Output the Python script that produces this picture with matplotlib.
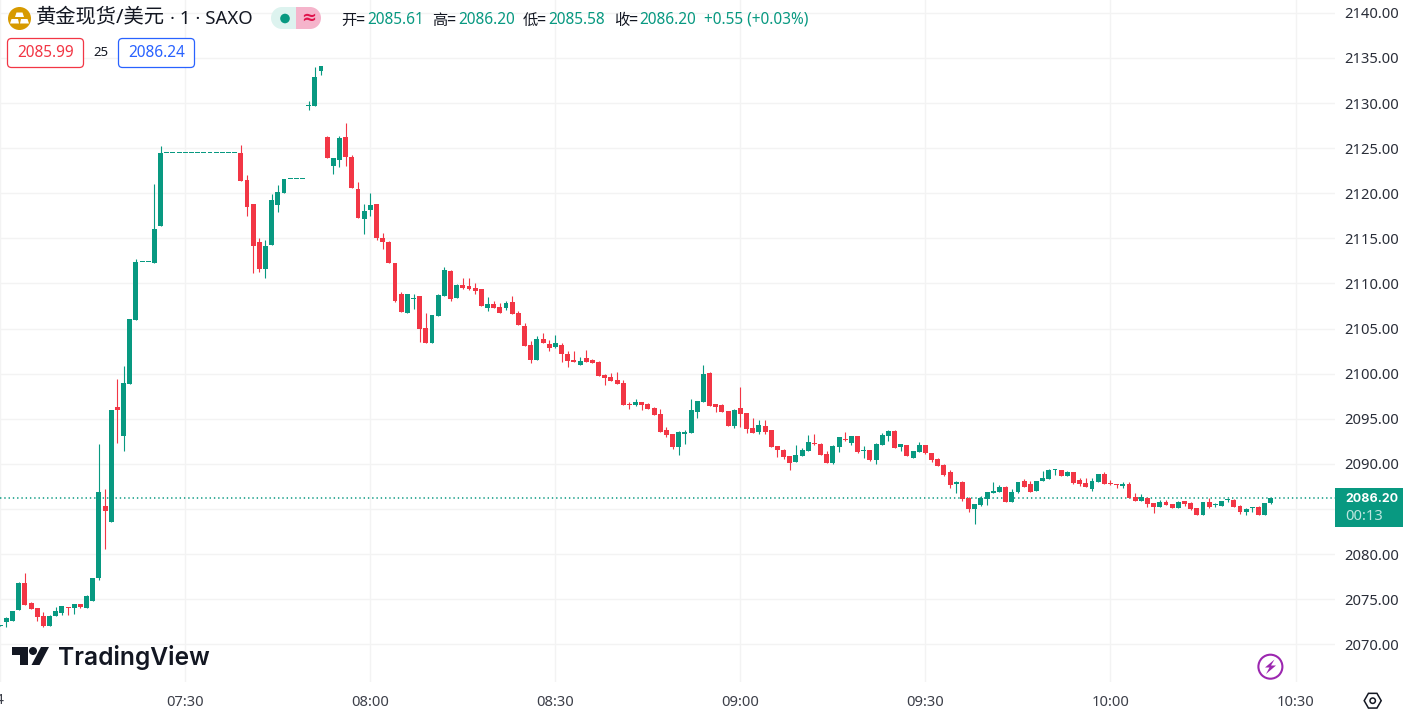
import numpy as np
import matplotlib
matplotlib.use("Agg")
import matplotlib.pyplot as plt
from matplotlib.patches import Circle, FancyBboxPatch, Polygon, Rectangle, RegularPolygon

# one candle per minute, first one at 07:00
opens = [
    2072.05, 2072.43, 2072.62, 2073.84, 2076.80, 2074.58, 2074.02, 2073.14, 2072.07, 2073.17,
    2073.50, 2074.14, 2074.02, 2074.47, 2074.02, 2074.80, 2077.35, 2085.33, 2083.56, 2096.31,
    2093.09, 2098.86, 2105.95, 2112.38, 2112.38, 2112.27, 2116.38, 2124.47, 2124.47, 2124.47,
    2124.47, 2124.47, 2124.47, 2124.47, 2124.47, 2124.47, 2124.47, 2124.47, 2124.47, 2124.47,
    2121.48, 2118.82, 2114.60, 2111.61, 2114.27, 2118.71, 2120.04, 2121.55, 2121.55, 2121.55,
    2129.70, 2129.68, 2133.56, 2126.25, 2123.03, 2123.70, 2126.25, 2124.03, 2120.48, 2117.15,
    2118.15, 2118.82, 2115.05, 2114.60, 2112.28, 2108.84, 2106.73, 2108.25, 2108.62, 2105.07,
    2103.41, 2106.40, 2108.62, 2111.39, 2108.40, 2109.84, 2109.73, 2109.51, 2109.40, 2107.29,
    2107.73, 2107.40, 2107.29, 2107.95, 2106.73, 2105.29, 2103.19, 2101.52, 2103.85, 2103.30,
    2102.96, 2103.19, 2102.19, 2101.52, 2100.97, 2101.75, 2101.52, 2101.30, 2099.86, 2099.64,
    2099.31, 2098.97, 2096.65, 2096.53, 2096.87, 2096.65, 2096.20, 2095.54, 2093.76, 2093.32,
    2091.88, 2093.32, 2093.43, 2095.76, 2096.86, 2100.08, 2096.64, 2096.53, 2095.87, 2094.20,
    2096.20, 2095.64, 2093.98, 2093.54, 2094.20, 2093.76, 2091.99, 2091.54, 2090.88, 2090.21,
    2090.88, 2091.43, 2092.32, 2092.21, 2091.10, 2090.10, 2091.87, 2092.76, 2092.32, 2093.09,
    2091.43, 2091.54, 2090.43, 2092.10, 2093.09, 2093.65, 2091.87, 2092.10, 2090.66, 2091.32,
    2092.10, 2091.21, 2090.55, 2089.88, 2089.11, 2087.77, 2088.00, 2086.22, 2085.00, 2085.45,
    2086.11, 2086.78, 2086.89, 2087.44, 2085.78, 2086.89, 2088.11, 2087.77, 2087.00, 2088.11,
    2088.33, 2089.33, 2089.33, 2088.66, 2089.11, 2088.22, 2087.89, 2087.22, 2088.00, 2088.88,
    2087.89, 2087.77, 2087.55, 2087.77, 2086.33, 2085.88, 2086.22, 2085.66, 2085.22, 2085.77,
    2085.55, 2085.11, 2085.88, 2085.66, 2085.11, 2084.33, 2085.77, 2085.40, 2085.33, 2085.98,
    2085.99, 2085.33, 2084.66, 2085.11, 2085.22, 2084.33, 2085.61,
]
highs = [
    2072.10, 2073.00, 2073.69, 2076.90, 2077.90, 2074.69, 2074.02, 2073.58, 2073.25, 2074.14,
    2074.25, 2074.14, 2074.47, 2074.47, 2075.47, 2077.35, 2092.20, 2087.21, 2095.97, 2099.41,
    2100.85, 2106.07, 2112.72, 2112.38, 2112.38, 2121.03, 2125.24, 2124.47, 2124.47, 2124.47,
    2124.47, 2124.47, 2124.47, 2124.47, 2124.47, 2124.47, 2124.47, 2124.47, 2124.47, 2125.36,
    2122.03, 2118.82, 2115.05, 2114.83, 2119.93, 2120.92, 2121.59, 2121.55, 2121.55, 2121.55,
    2130.23, 2134.00, 2134.11, 2126.36, 2123.92, 2126.36, 2127.80, 2124.25, 2121.26, 2118.82,
    2120.04, 2118.82, 2115.60, 2114.70, 2112.28, 2109.06, 2108.84, 2108.84, 2108.62, 2106.73,
    2106.51, 2108.84, 2111.83, 2111.50, 2109.95, 2110.61, 2110.61, 2110.06, 2109.40, 2108.51,
    2108.06, 2107.84, 2108.06, 2108.62, 2106.96, 2105.63, 2103.63, 2104.18, 2104.52, 2103.74,
    2104.30, 2103.41, 2102.52, 2102.52, 2101.86, 2102.63, 2101.64, 2101.41, 2099.97, 2100.08,
    2100.19, 2099.31, 2096.87, 2097.20, 2096.87, 2096.76, 2096.31, 2096.09, 2094.10, 2093.32,
    2093.65, 2093.76, 2097.20, 2096.98, 2100.97, 2100.19, 2096.64, 2096.64, 2095.87, 2096.09,
    2098.53, 2095.64, 2095.09, 2094.87, 2094.87, 2093.76, 2091.99, 2091.65, 2090.88, 2092.10,
    2091.76, 2093.21, 2093.32, 2092.32, 2091.43, 2092.10, 2092.98, 2093.54, 2093.09, 2093.09,
    2091.99, 2091.54, 2092.32, 2093.43, 2093.76, 2093.76, 2092.21, 2092.10, 2091.43, 2092.43,
    2092.10, 2091.21, 2090.66, 2089.99, 2089.33, 2088.11, 2088.11, 2086.33, 2085.56, 2086.44,
    2086.89, 2088.00, 2087.66, 2087.55, 2087.22, 2088.00, 2088.33, 2088.11, 2088.11, 2089.22,
    2089.44, 2089.44, 2089.33, 2089.22, 2089.11, 2088.44, 2088.44, 2088.44, 2088.88, 2089.11,
    2088.22, 2087.77, 2088.00, 2088.00, 2086.78, 2086.66, 2086.33, 2085.66, 2085.99, 2085.99,
    2085.55, 2085.88, 2085.88, 2085.77, 2085.11, 2085.77, 2086.22, 2085.66, 2085.88, 2086.10,
    2086.10, 2085.44, 2085.11, 2085.22, 2085.33, 2085.66, 2086.20,
]
lows = [
    2072.05, 2071.95, 2072.62, 2073.84, 2074.39, 2073.95, 2072.62, 2071.95, 2072.07, 2073.17,
    2073.29, 2073.25, 2073.36, 2074.02, 2074.02, 2074.80, 2077.13, 2080.57, 2083.56, 2092.32,
    2091.43, 2098.86, 2105.95, 2112.38, 2112.38, 2112.27, 2116.38, 2124.47, 2124.47, 2124.47,
    2124.47, 2124.47, 2124.47, 2124.47, 2124.47, 2124.47, 2124.47, 2124.47, 2124.47, 2121.37,
    2117.49, 2111.17, 2111.28, 2110.61, 2114.27, 2117.93, 2120.04, 2121.55, 2121.55, 2121.55,
    2129.23, 2129.68, 2133.12, 2123.92, 2122.14, 2122.92, 2123.03, 2120.59, 2117.27, 2115.49,
    2117.49, 2114.83, 2113.83, 2112.28, 2107.95, 2106.84, 2106.73, 2107.18, 2103.52, 2103.41,
    2103.41, 2106.40, 2108.62, 2108.06, 2108.40, 2109.39, 2109.28, 2108.84, 2107.51, 2106.96,
    2107.29, 2106.73, 2107.07, 2106.62, 2105.40, 2103.08, 2101.19, 2101.52, 2103.41, 2102.52,
    2102.85, 2101.30, 2100.75, 2101.30, 2100.97, 2101.30, 2101.19, 2099.75, 2098.75, 2099.20,
    2098.86, 2096.53, 2096.09, 2096.42, 2095.98, 2096.09, 2095.43, 2093.54, 2092.99, 2091.66,
    2090.99, 2092.21, 2093.43, 2095.09, 2096.86, 2096.42, 2095.76, 2095.76, 2094.20, 2093.98,
    2094.09, 2093.43, 2093.43, 2093.32, 2093.32, 2091.87, 2090.77, 2090.54, 2089.32, 2090.21,
    2090.88, 2091.43, 2092.10, 2090.99, 2090.10, 2089.99, 2091.32, 2092.54, 2092.10, 2091.21,
    2090.66, 2090.32, 2089.99, 2092.10, 2092.54, 2091.76, 2091.43, 2090.88, 2090.66, 2091.32,
    2091.10, 2090.21, 2089.77, 2088.66, 2087.33, 2086.78, 2085.89, 2084.67, 2083.34, 2085.34,
    2085.45, 2086.78, 2086.89, 2085.78, 2085.78, 2086.78, 2087.44, 2086.89, 2087.00, 2088.11,
    2088.33, 2088.77, 2088.66, 2088.66, 2087.77, 2087.55, 2087.44, 2087.00, 2088.00, 2087.77,
    2087.66, 2087.33, 2087.33, 2086.22, 2085.89, 2085.88, 2085.22, 2084.55, 2085.22, 2085.44,
    2085.11, 2085.11, 2085.33, 2084.89, 2084.33, 2084.33, 2085.11, 2085.22, 2085.33, 2085.77,
    2085.22, 2084.44, 2084.33, 2084.66, 2084.33, 2084.33, 2085.58,
]
closes = [
    2072.07, 2072.92, 2073.69, 2076.80, 2074.39, 2073.95, 2073.06, 2072.07, 2073.14, 2073.69,
    2074.25, 2074.06, 2074.47, 2074.17, 2075.35, 2077.35, 2086.88, 2084.78, 2095.97, 2095.97,
    2098.97, 2106.07, 2112.38, 2112.38, 2112.38, 2116.04, 2124.47, 2124.47, 2124.47, 2124.47,
    2124.47, 2124.47, 2124.47, 2124.47, 2124.47, 2124.47, 2124.47, 2124.47, 2124.47, 2121.37,
    2118.48, 2114.16, 2111.61, 2114.16, 2119.26, 2120.15, 2121.59, 2121.55, 2121.55, 2121.55,
    2129.72, 2132.89, 2134.11, 2123.92, 2123.92, 2126.13, 2124.03, 2120.59, 2117.27, 2118.04,
    2118.71, 2115.05, 2114.60, 2112.28, 2108.06, 2106.84, 2108.84, 2108.30, 2104.96, 2103.41,
    2106.51, 2108.73, 2111.50, 2108.29, 2109.84, 2109.50, 2109.40, 2109.17, 2107.51, 2107.73,
    2107.29, 2106.73, 2107.84, 2106.62, 2105.40, 2103.08, 2101.52, 2103.85, 2103.41, 2102.85,
    2103.41, 2102.19, 2101.41, 2101.30, 2101.41, 2101.30, 2101.19, 2099.75, 2099.53, 2099.20,
    2098.86, 2096.53, 2096.53, 2096.87, 2096.53, 2096.09, 2095.43, 2093.54, 2093.21, 2091.88,
    2093.54, 2093.54, 2095.98, 2096.98, 2099.97, 2096.42, 2096.31, 2095.76, 2094.20, 2095.98,
    2095.53, 2093.87, 2093.43, 2094.31, 2093.54, 2091.87, 2091.54, 2090.77, 2090.10, 2090.99,
    2091.54, 2092.43, 2092.21, 2090.99, 2090.10, 2091.99, 2092.98, 2092.65, 2093.09, 2091.32,
    2091.47, 2090.43, 2092.21, 2093.21, 2093.65, 2091.76, 2092.21, 2090.88, 2091.43, 2092.10,
    2091.21, 2090.44, 2089.77, 2088.77, 2087.66, 2088.00, 2086.11, 2085.00, 2085.56, 2086.22,
    2086.89, 2087.00, 2087.44, 2085.78, 2086.89, 2088.00, 2087.44, 2086.89, 2088.11, 2088.44,
    2089.33, 2089.35, 2088.66, 2089.11, 2087.89, 2087.77, 2087.44, 2088.11, 2088.88, 2087.77,
    2087.77, 2087.66, 2087.77, 2086.22, 2085.89, 2086.33, 2085.55, 2085.22, 2085.77, 2085.44,
    2085.11, 2085.77, 2085.55, 2085.00, 2084.33, 2085.77, 2085.22, 2085.44, 2085.88, 2086.00,
    2085.22, 2084.66, 2085.00, 2085.22, 2084.33, 2085.66, 2086.20,
]
price_ticks = list(range(2070, 2145, 5))
time_ticks = [0, 30, 60, 90, 120, 150, 180, 210]
time_labels = ["", "07:30", "08:00", "08:30", "09:00", "09:30", "10:00", "10:30"]
bid = 2085.99
ask = 2086.24
spread = 25
change = "+0.55 (+0.03%)"
countdown = "00:13"

GREEN = "#089981"
RED = "#f23645"
BLUE = "#2962ff"
INK = "#131722"
GRID = "#f3f3f3"
NUM_FONT = ["Noto Sans", "Noto Sans CJK SC"]
CJK_FONT = ["Noto Sans CJK SC", "DejaVu Sans"]

W, H = 1403, 713
fig = plt.figure(figsize=(W / 100, H / 100), dpi=100, facecolor="white")
ax = fig.add_axes([0, (H - 682) / H, 1335 / W, 682 / H])

opens = np.array(opens)
highs = np.array(highs)
lows = np.array(lows)
closes = np.array(closes)
minutes = np.arange(len(opens))
colors = np.where(closes >= opens, GREEN, RED)

# wicks, then bodies with a 1px minimum height for the flat minutes
ax.vlines(minutes, lows, highs, colors=colors, linewidth=0.8, zorder=3)
ax.bar(minutes, np.maximum(np.abs(closes - opens), 0.11), bottom=np.minimum(opens, closes),
       width=0.8, color=colors, linewidth=0, zorder=4)
ax.axhline(closes[-1], color=GREEN, linewidth=1.1, linestyle=(0, (0.9, 1.9)), zorder=2)

ax.set_xlim(-0.042, 216.4)
ax.set_ylim(2065.82, 2141.43)
ax.set_xticks(time_ticks)
ax.set_xticklabels(time_labels, fontsize=10.6, family=NUM_FONT, color="#3c3f49")
ax.set_yticks(price_ticks)
# the 2085 label sits behind the last price tag, so it stays empty
ax.set_yticklabels(["" if p == 2085 else f"{p:.2f}" for p in price_ticks],
                   fontsize=10.6, family=NUM_FONT, color="#2a2e39")
ax.yaxis.tick_right()
ax.tick_params(axis="x", length=0, pad=9.5)
ax.tick_params(axis="y", length=0, pad=7)
ax.grid(True, color=GRID, linewidth=1)
ax.set_axisbelow(True)
for spine in ax.spines.values():
    spine.set_visible(False)

# overlay in picture pixels for the header, badges and logo
ov = fig.add_axes([0, 0, 1, 1])
ov.set_xlim(0, W)
ov.set_ylim(H, 0)
ov.axis("off")
ov.patch.set_alpha(0)

# symbol icon
ov.add_patch(Circle((19.5, 18.5), 11.5, color="#d79a00", linewidth=0))
ov.add_patch(Polygon([(16.5, 12.5), (22.5, 12.5), (24, 17), (15, 17)], color="white", linewidth=0))
ov.add_patch(Polygon([(11.5, 19), (18, 19), (19, 23.5), (10, 23.5)], color="white", linewidth=0))
ov.add_patch(Polygon([(21, 19), (27.5, 19), (29, 23.5), (20, 23.5)], color="white", linewidth=0))
ov.text(36, 18.5, "黄金现货/美元", fontsize=14.6, family=NUM_FONT, color=INK, ha="left", va="center")
ov.text(170, 18.5, "· 1 · SAXO", fontsize=13.4, family=NUM_FONT, color=INK, ha="left", va="center")

# market status pill
ov.add_patch(Circle((282, 18), 11, color="#ddf3ef", linewidth=0))
ov.add_patch(Rectangle((282, 7), 14, 22, color="#ddf3ef", linewidth=0))
ov.add_patch(Rectangle((296, 7), 14, 22, color="#f5b4cb", linewidth=0))
ov.add_patch(Circle((310, 18), 11, color="#f5b4cb", linewidth=0))
ov.add_patch(Circle((285, 18.5), 4.8, color=GREEN, linewidth=0))
ov.text(308.5, 18, "≈", fontsize=13, family="DejaVu Sans", color="#e0144c", ha="center", va="center", weight="bold")

# OHLC readout
ohlc = [("开", 341.5, opens[-1], 367.5), ("高", 432.5, highs[-1], 458.5),
        ("低", 522.5, lows[-1], 548.5), ("收", 614, closes[-1], 639.5)]
for name, x_name, value, x_value in ohlc:
    ov.text(x_name, 20, name + "=", fontsize=11, family=CJK_FONT, color=INK, ha="left", va="center")
    ov.text(x_value, 20, f"{value:.2f}", fontsize=11.1, family=NUM_FONT, color=GREEN, ha="left", va="center")
ov.text(704, 20, change, fontsize=11.1, family=NUM_FONT, color=GREEN, ha="left", va="center")

# bid / ask boxes
for x0, value, col in [(7.5, bid, RED), (118.5, ask, BLUE)]:
    ov.add_patch(FancyBboxPatch((x0, 38.5), 76, 29, boxstyle="round,pad=0,rounding_size=4",
                                facecolor="white", edgecolor=col, linewidth=0.9))
    ov.text(x0 + 38, 53, f"{value:.2f}", fontsize=11.1, family=NUM_FONT, color=col, ha="center", va="center")
ov.text(101, 53, str(spread), fontsize=9.5, family=NUM_FONT, color=INK, ha="center", va="center")

# last price tag
ov.add_patch(Rectangle((1335, 488), 68, 39, color=GREEN, linewidth=0))
ov.text(1345, 498.5, f"{closes[-1]:.2f}", fontsize=9, family="Inter", color="white", ha="left", va="center", weight="bold")
ov.text(1345, 516.5, countdown, fontsize=10.6, family=NUM_FONT, color="#bfe6df", ha="left", va="center")

# cut off date label at the left edge
ov.text(4.5, 701, "14", fontsize=10.6, family=NUM_FONT, color="#3c3f49", ha="right", va="center")

# TradingView logo
ov.add_patch(Polygon([(12, 647), (27.5, 647), (27.5, 665), (20, 665), (20, 655), (12, 655)], color=INK, linewidth=0))
ov.add_patch(Circle((33, 651), 4, color=INK, linewidth=0))
ov.add_patch(Polygon([(41, 647), (49, 647), (39.5, 665), (31.5, 665)], color=INK, linewidth=0))
ov.text(58, 657.5, "TradingView", fontsize=17.7, family="Inter", weight="semibold", color=INK,
        ha="left", va="center")

# lightning button
ov.add_patch(Circle((1270.4, 666.7), 12, facecolor="white", edgecolor="#9c27b0", linewidth=1.5))
ov.add_patch(Polygon([(1274.5, 659.5), (1265, 667.5), (1269.5, 667.5), (1266, 674), (1276, 665.5), (1271, 665.5)],
                     color="#9c27b0", linewidth=0))

# settings gear
ov.add_patch(RegularPolygon((1372.7, 700.7), 6, radius=8.5, orientation=np.pi / 2, facecolor="white",
                            edgecolor=INK, linewidth=1.1))
ov.add_patch(Circle((1372.7, 700.7), 2.7, facecolor="white", edgecolor=INK, linewidth=1.1))

fig.savefig("out.png", dpi=100)
